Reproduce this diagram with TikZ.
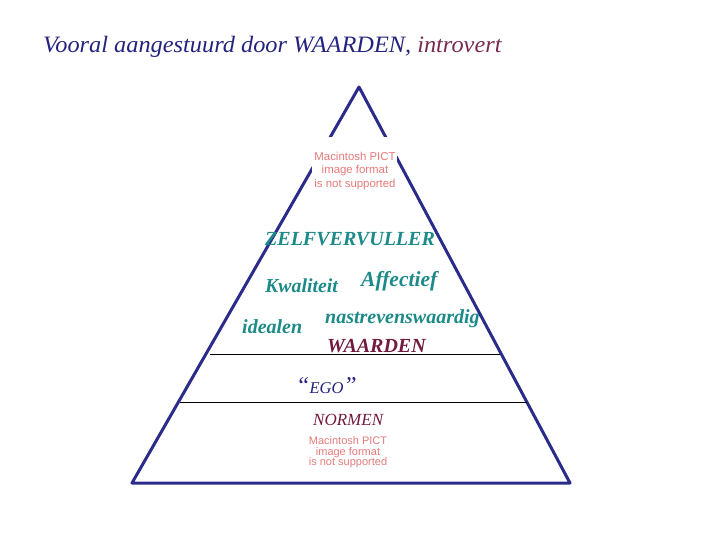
\documentclass[tikz,border=0pt]{standalone}
\usepackage{fontspec}
\usepackage{graphicx}
\setmainfont{Liberation Serif}
\newfontfamily\arialfont{Liberation Sans}
\definecolor{navy}{HTML}{23237F}
\definecolor{tri}{HTML}{2B2B8A}
\definecolor{maroon}{HTML}{7A2A4E}
\definecolor{wine}{HTML}{73193F}
\definecolor{teal}{HTML}{1C8A88}
\definecolor{pict}{HTML}{E57A7A}
\tikzset{
  lbl/.style={inner sep=0pt, anchor=base west},
  tealtxt/.style={lbl, text=teal, font=\fontsize{20}{24}\selectfont\bfseries\itshape},
  pictbox/.style={inner sep=0pt, align=center, text=pict},
  sep/.style={draw=black, line width=0.9pt},
}
\begin{document}
\begin{tikzpicture}[x=1pt,y=-1pt]
\useasboundingbox (0,0) rectangle (720,540);
% triangle
\coordinate (apex) at (359,87);
\coordinate (bl) at (132,483);
\coordinate (br) at (570,483);
\draw[tri, line width=3pt, line join=round] (apex) -- (bl) -- (br) -- cycle;
% placeholder image box covering the lines
\fill[white] (312,137) rectangle (397,193);
% separators
\coordinate (s1a) at (210,354); \coordinate (s1b) at (500,354);
\coordinate (s2a) at (180,402); \coordinate (s2b) at (527,402);
\draw[sep] (s1a) -- (s1b);
\draw[sep] (s2a) -- (s2b);
% title
\node[lbl, font=\fontsize{23.5}{28}\selectfont\itshape] (title) at (43,53)
  {\scalebox{1.036}[1]{\textcolor{navy}{Vooral aangestuurd door WAARDEN,} \textcolor{maroon}{introvert}}};
% pict placeholders
\node[pictbox, font=\arialfont\fontsize{11.4}{13.2}\selectfont] (pict1) at (355,171)
  {Macintosh PICT\\image format\\is not supported};
\node[pictbox, font=\arialfont\fontsize{11}{10.5}\selectfont] (pict2) at (348,452.5)
  {Macintosh PICT\\image format\\is not supported};
% texts
\node[tealtxt] (zelf) at (265,245) {ZELFVERVULLER};
\node[tealtxt, font=\fontsize{19.8}{24}\selectfont\bfseries\itshape] (kwal) at (265,292) {Kwaliteit};
\node[tealtxt, font=\fontsize{21.5}{24}\selectfont\bfseries\itshape] (affe) at (361,286) {Affectief};
\node[tealtxt] (idea) at (242,333) {idealen};
\node[tealtxt] (nast) at (325,323) {nastrevenswaardig};
\node[lbl, text=wine, font=\fontsize{20}{24}\selectfont\bfseries\itshape] (waar) at (327,352) {WAARDEN};
\node[lbl, text=navy, font=\itshape] (ego) at (296,393)
  {\fontsize{24}{28}\selectfont``\fontsize{16.5}{20}\selectfont EGO\fontsize{24}{28}\selectfont''};
\node[lbl, text=wine, font=\fontsize{17}{20}\selectfont\itshape] (norm) at (313,425) {NORMEN};
\end{tikzpicture}
\end{document}
